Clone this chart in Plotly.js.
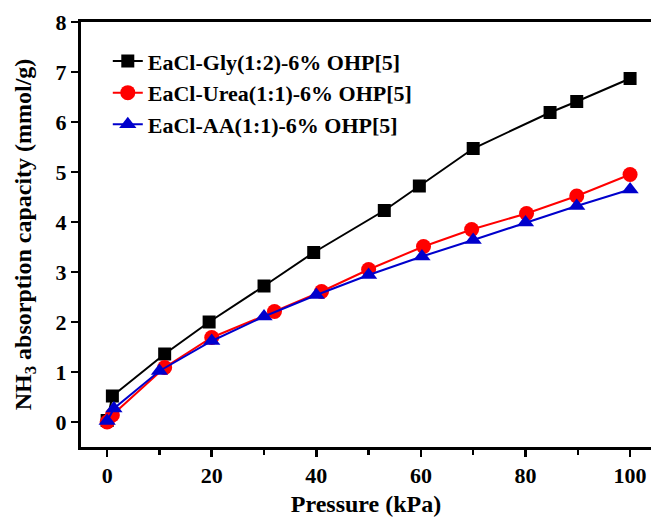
<!DOCTYPE html>
<html>
<head>
<meta charset="utf-8">
<script src="https://cdn.plot.ly/plotly-3.0.1.min.js"></script>
<style>html,body{margin:0;padding:0;background:#fff;}#chart{width:651px;height:519px;}</style>
</head>
<body>
<div id="chart"></div>
<script>
// Data
const glyPressure = [0, 1, 11, 19.5, 30, 39.5, 53, 59.7, 70, 84.7, 89.8, 100];
const glyCapacity = [0.03, 0.52, 1.36, 2.0, 2.72, 3.39, 4.23, 4.72, 5.47, 6.19, 6.41, 6.87];

const ureaPressure = [0, 1, 11, 20, 32, 41, 50, 60.5, 69.7, 80.2, 89.8, 100];
const ureaCapacity = [0.0, 0.14, 1.09, 1.69, 2.21, 2.61, 3.05, 3.51, 3.85, 4.17, 4.52, 4.95];

const aaPressure = [0, 1.3, 10, 20, 30, 40, 50, 60.2, 70, 80, 89.8, 100];
const aaCapacity = [0.02, 0.27, 1.02, 1.62, 2.11, 2.54, 2.94, 3.31, 3.64, 3.99, 4.32, 4.65];

const seriesNames = ['EaCl-Gly(1:2)-6% OHP[5]', 'EaCl-Urea(1:1)-6% OHP[5]', 'EaCl-AA(1:1)-6% OHP[5]'];
const xTickVals = [0, 20, 40, 60, 80, 100];
const xMinorTickVals = [10, 30, 50, 70, 90];
const yTickVals = [0, 1, 2, 3, 4, 5, 6, 7, 8];

const font = 'Liberation Serif, Times New Roman, serif';

const traces = [
  {x: glyPressure, y: glyCapacity, name: '<b>' + seriesNames[0] + '</b>', mode: 'lines+markers', legendgroup: 'a',
   line: {color: '#000000', width: 2}, marker: {symbol: 'square', size: 13, color: '#000000'}},
  {x: ureaPressure, y: ureaCapacity, name: '<b>' + seriesNames[1] + '</b>', mode: 'lines+markers', legendgroup: 'b',
   line: {color: '#ff0000', width: 2}, marker: {symbol: 'circle', size: 15, color: '#ff0000'}},
  {x: aaPressure, y: aaCapacity, name: '<b>' + seriesNames[2] + '</b>', mode: 'lines+markers', legendgroup: 'c',
   line: {color: '#0000cc', width: 2}, marker: {symbol: 'triangle-up', size: 15, color: '#0000cc'}}
];

const layout = {
  width: 651, height: 519,
  margin: {l: 81, r: 0, t: 22, b: 72},
  paper_bgcolor: '#ffffff', plot_bgcolor: '#ffffff',
  showlegend: true,
  legend: {x: 0.047, y: 0.957, xanchor: 'left', yanchor: 'top',
           font: {family: font, size: 22, color: '#000'}, bgcolor: 'rgba(0,0,0,0)',
           tracegroupgap: 0},
  xaxis: {
    range: [-5, 104], showgrid: false, zeroline: false,
    showline: true, linewidth: 3, linecolor: '#000', mirror: true,
    ticks: 'outside', ticklen: 7, tickwidth: 2.5, tickcolor: '#000',
    tickvals: xTickVals,
    minor: {tickvals: xMinorTickVals, ticks: 'outside', ticklen: 5, tickwidth: 2.5, tickcolor: '#000'},
    tickfont: {family: font, size: 22, color: '#000', weight: 'bold'},
    title: {text: '<b>Pressure (kPa)</b>', font: {family: font, size: 24, color: '#000'}, standoff: 8}
  },
  yaxis: {
    range: [-0.5, 8], showgrid: false, zeroline: false,
    showline: true, linewidth: 3, linecolor: '#000',
    ticks: 'outside', ticklen: 7, tickwidth: 2.5, tickcolor: '#000',
    tickvals: yTickVals,
    tickfont: {family: font, size: 22, color: '#000', weight: 'bold'},
    title: {text: '<b>NH<sub>3</sub> absorption capacity (mmol/g)</b>', font: {family: font, size: 24, color: '#000'}, standoff: 18}
  }
};

Plotly.newPlot('chart', traces, layout, {displayModeBar: false, staticPlot: true});
</script>
</body>
</html>
